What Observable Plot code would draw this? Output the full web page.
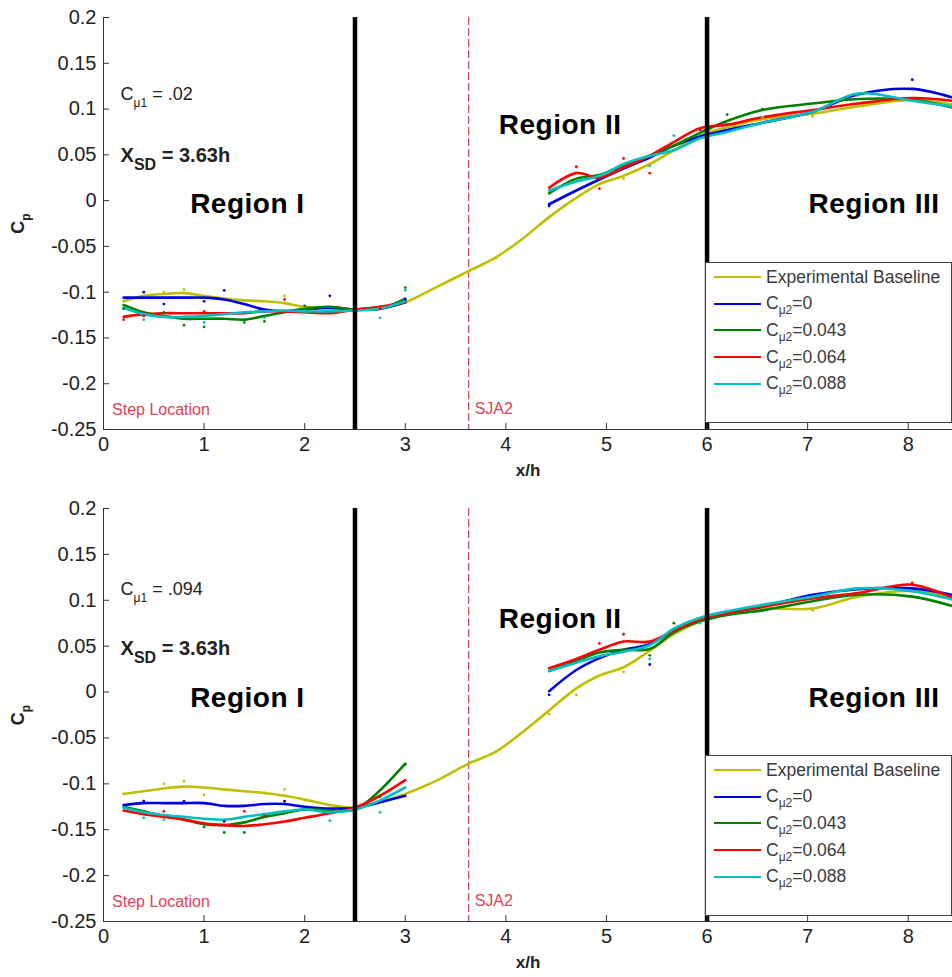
<!DOCTYPE html>
<html><head><meta charset="utf-8">
<script src="https://cdn.jsdelivr.net/npm/d3@7"></script>
<script src="https://cdn.jsdelivr.net/npm/@observablehq/plot@0.6"></script>
<style>
body{margin:0;background:#fff;font-family:Arial,"Liberation Sans",sans-serif;}
.panel{position:relative;width:952px;overflow:hidden;}
.legend{position:absolute;background:#fff;border:1px solid #444;box-sizing:border-box;width:247px;height:161px;padding-top:1px;}
.legend .row{display:flex;align-items:center;height:26.6px;font-size:17.5px;color:#3a3a3a;white-space:nowrap;}
.legend .sw{width:47px;margin-left:8px;margin-right:5px;height:0;border-top:2.5px solid;}
.legend sub{font-size:12px;vertical-align:-5px;line-height:0;}
</style></head><body><div id="chart"></div><script>
// ---- axes / reference values ----
const xDomain = [0, 8.44];
const yDomain = [-0.25, 0.2];
const xTicks = [0, 1, 2, 3, 4, 5, 6, 7, 8];
const yTicks = [-0.25, -0.2, -0.15, -0.1, -0.05, 0, 0.05, 0.1, 0.15, 0.2];
const regionBounds = [2.5, 6];
const sjaLocation = [3.63];

// ---- series ----
const seriesNames = ["Experimental Baseline", "Cμ2=0", "Cμ2=0.043", "Cμ2=0.064", "Cμ2=0.088"];
const seriesColors = ["#bfbf00", "#0000e6", "#008000", "#ff0000", "#00bfbf"];

// measurement stations
const xI = [0.2, 0.4, 0.6, 0.8, 1.0, 1.2, 1.4, 1.6, 1.8, 2.0, 2.25, 2.5, 2.75, 3.0];
const xGap = [3.3, 3.63, 3.9, 4.15];
const xII = [4.43, 4.7, 4.93, 5.17, 5.43, 5.67, 5.93, 6.2, 6.55, 7.05, 7.5, 8.04, 8.43];

// ---- top panel (Cμ1 = .02) fitted curves ----
const topBaseI = [-0.110, -0.104, -0.102, -0.101, -0.104, -0.107, -0.109, -0.110, -0.112, -0.116, -0.118, -0.119, -0.118, -0.111];
const topBaseGap = [-0.095, -0.077, -0.062, -0.043];
const topBaseII = [-0.018, 0.003, 0.018, 0.027, 0.040, 0.055, 0.071, 0.080, 0.089, 0.095, 0.103, 0.110, 0.105];
const topBlueI = [-0.106, -0.106, -0.106, -0.106, -0.106, -0.108, -0.113, -0.119, -0.121, -0.119, -0.117, -0.119, -0.118, -0.111];
const topBlueII = [-0.004, 0.011, 0.023, 0.035, 0.047, 0.060, 0.070, 0.077, 0.085, 0.097, 0.116, 0.122, 0.113];
const topGreenI = [-0.114, -0.122, -0.126, -0.129, -0.129, -0.129, -0.130, -0.126, -0.122, -0.118, -0.116, -0.119, -0.118, -0.107];
const topGreenII = [0.008, 0.024, 0.028, 0.038, 0.049, 0.060, 0.074, 0.087, 0.099, 0.106, 0.111, 0.110, 0.102];
const topRedI = [-0.127, -0.124, -0.123, -0.123, -0.123, -0.123, -0.123, -0.121, -0.121, -0.122, -0.123, -0.119, -0.116, -0.111];
const topRedII = [0.014, 0.030, 0.025, 0.036, 0.049, 0.064, 0.079, 0.083, 0.091, 0.099, 0.106, 0.112, 0.109];
const topCyanI = [-0.117, -0.124, -0.127, -0.127, -0.126, -0.124, -0.122, -0.121, -0.120, -0.121, -0.121, -0.120, -0.118, -0.110];
const topCyanII = [0.011, 0.021, 0.027, 0.040, 0.049, 0.055, 0.068, 0.075, 0.085, 0.097, 0.117, 0.109, 0.103];

// ---- bottom panel (Cμ1 = .094) fitted curves ----
const botBaseI = [-0.111, -0.108, -0.105, -0.103, -0.104, -0.106, -0.108, -0.110, -0.113, -0.117, -0.123, -0.126, -0.120, -0.111];
const botBaseGap = [-0.097, -0.078, -0.065, -0.045];
const botBaseII = [-0.020, 0.004, 0.018, 0.027, 0.045, 0.063, 0.077, 0.086, 0.091, 0.091, 0.104, 0.110, 0.103];
const botBlueI = [-0.123, -0.121, -0.121, -0.121, -0.121, -0.124, -0.124, -0.122, -0.122, -0.125, -0.127, -0.126, -0.120, -0.113];
const botBlueII = [0.001, 0.024, 0.037, 0.046, 0.052, 0.067, 0.079, 0.086, 0.093, 0.106, 0.112, 0.113, 0.106];
const botGreenI = [-0.125, -0.130, -0.135, -0.139, -0.144, -0.145, -0.142, -0.136, -0.132, -0.128, -0.129, -0.128, -0.107, -0.078];
const botGreenII = [0.023, 0.034, 0.043, 0.046, 0.047, 0.065, 0.077, 0.084, 0.089, 0.099, 0.106, 0.104, 0.094];
const botRedI = [-0.129, -0.133, -0.136, -0.139, -0.143, -0.145, -0.146, -0.144, -0.141, -0.137, -0.132, -0.126, -0.113, -0.096];
const botRedII = [0.026, 0.036, 0.046, 0.055, 0.055, 0.067, 0.079, 0.086, 0.093, 0.102, 0.108, 0.117, 0.103];
const botCyanI = [-0.126, -0.131, -0.134, -0.136, -0.138, -0.139, -0.136, -0.133, -0.130, -0.128, -0.131, -0.128, -0.118, -0.104];
const botCyanII = [0.023, 0.032, 0.039, 0.044, 0.051, 0.069, 0.081, 0.088, 0.095, 0.104, 0.113, 0.110, 0.101];

// ---- raw measurement dots [x, Cp] ----
const topBaseDots = [[0.6,-0.100],[0.8,-0.097],[1.8,-0.104],[2.0,-0.116],[3.9,-0.063],[4.43,-0.018],[5.17,0.024],[6.55,0.091],[7.05,0.092]];
const topBlueDots = [[0.4,-0.100],[0.6,-0.113],[1.0,-0.110],[1.2,-0.098],[2.25,-0.104],[3.0,-0.108],[4.43,-0.006],[8.04,0.132]];
const topGreenDots = [[0.2,-0.118],[0.6,-0.122],[0.8,-0.136],[1.0,-0.138],[1.4,-0.133],[1.6,-0.132],[2.0,-0.115],[3.0,-0.095],[6.2,0.094],[6.55,0.100]];
const topRedDots = [[0.2,-0.130],[0.4,-0.126],[1.0,-0.121],[1.8,-0.108],[2.75,-0.118],[4.7,0.037],[4.93,0.013],[5.17,0.046],[5.43,0.030],[5.93,0.077]];
const topCyanDots = [[0.4,-0.130],[1.0,-0.133],[1.6,-0.128],[2.75,-0.128],[3.0,-0.098],[5.43,0.038],[5.67,0.071],[7.5,0.115]];
const botBaseDots = [[0.2,-0.111],[0.6,-0.100],[0.8,-0.097],[1.0,-0.112],[1.6,-0.110],[1.8,-0.106],[2.0,-0.118],[3.9,-0.065],[4.43,-0.024],[4.7,-0.003],[5.17,0.022],[7.05,0.089]];
const botBlueDots = [[0.4,-0.119],[0.8,-0.119],[1.2,-0.141],[1.8,-0.119],[4.43,-0.003],[5.43,0.030]];
const botGreenDots = [[1.0,-0.147],[1.2,-0.153],[1.4,-0.153],[2.75,-0.114],[3.0,-0.079],[5.43,0.040],[5.67,0.075]];
const botRedDots = [[0.6,-0.130],[1.4,-0.130],[1.6,-0.135],[4.93,0.053],[5.17,0.063],[8.04,0.119]];
const botCyanDots = [[0.4,-0.137],[0.6,-0.139],[2.25,-0.140],[2.75,-0.131],[5.43,0.036],[5.93,0.075]];

// ---- annotation texts ----
const cmu1Labels = ["Cμ1 = .02", "Cμ1 = .094"];
const xsdLabel = "XSD = 3.63h";
const regionLabels = ["Region I", "Region II", "Region III"];
const regionLabelX = [1.43, 4.54, 7.66];
const topRegionLabelY = [-0.004, 0.083, -0.004];
const botRegionLabelY = [-0.007, 0.080, -0.007];
const stepLabel = "Step Location";
const sjaLabel = "SJA2";

// ---- build tables ----
function buildLines(baseI, baseGap, baseII, curvesI, curvesII) {
  const rows = [];
  const baseX = xI.concat(xGap, xII);
  const baseV = baseI.concat(baseGap, baseII);
  baseX.forEach((x, i) => rows.push({series: seriesNames[0], seg: "all", x, cp: baseV[i]}));
  curvesI.forEach((vals, k) => vals.forEach((v, i) => rows.push({series: seriesNames[k + 1], seg: "I", x: xI[i], cp: v})));
  curvesII.forEach((vals, k) => vals.forEach((v, i) => rows.push({series: seriesNames[k + 1], seg: "II", x: xII[i], cp: v})));
  return rows;
}
function buildDots(lists) {
  const rows = [];
  lists.forEach((list, k) => list.forEach(([x, cp]) => rows.push({series: seriesNames[k], x, cp})));
  return rows;
}

const panels = [
  {
    lines: buildLines(topBaseI, topBaseGap, topBaseII, [topBlueI, topGreenI, topRedI, topCyanI], [topBlueII, topGreenII, topRedII, topCyanII]),
    dots: buildDots([topBaseDots, topBlueDots, topGreenDots, topRedDots, topCyanDots]),
    cmu: cmu1Labels[0], cmuY: 0.116, xsdY: 0.049, regionY: topRegionLabelY,
    height: 488, marginTop: 17, marginBottom: 59, legendTop: 262
  },
  {
    lines: buildLines(botBaseI, botBaseGap, botBaseII, [botBlueI, botGreenI, botRedI, botCyanI], [botBlueII, botGreenII, botRedII, botCyanII]),
    dots: buildDots([botBaseDots, botBlueDots, botGreenDots, botRedDots, botCyanDots]),
    cmu: cmu1Labels[1], cmuY: 0.112, xsdY: 0.0475, regionY: botRegionLabelY,
    height: 489, marginTop: 20, marginBottom: 56, legendTop: 267
  }
];

function rich(svg, key, html) {
  d3.select(svg).selectAll("text").filter(function () { return this.textContent === key; })
    .each(function () { this.innerHTML = html; });
}

const root = document.getElementById("chart");
panels.forEach((p) => {
  const regions = regionLabels.map((t, i) => ({text: t, x: regionLabelX[i], y: p.regionY[i]}));
  const plot = Plot.plot({
    width: 952, height: p.height,
    marginTop: p.marginTop, marginBottom: p.marginBottom, marginLeft: 103, marginRight: 0,
    x: {domain: xDomain},
    y: {domain: yDomain},
    color: {domain: seriesNames, range: seriesColors},
    style: {fontFamily: "Arial, 'Liberation Sans', sans-serif", color: "#222", background: "#fff"},
    marks: [
      Plot.ruleX(sjaLocation, {stroke: "#c8384f", strokeWidth: 1.1, strokeDasharray: "8,3"}),
      Plot.line(p.lines, {x: "x", y: "cp", z: (d) => d.series + d.seg, stroke: "series", strokeWidth: 2.6, curve: "catmull-rom"}),
      Plot.dot(p.dots, {x: "x", y: "cp", fill: "series", r: 1.4}),
      Plot.ruleX(regionBounds, {stroke: "#000", strokeWidth: 4.5}),
      Plot.ruleX([xDomain[0]], {stroke: "#333", strokeWidth: 1}),
      Plot.ruleY([yDomain[0]], {stroke: "#333", strokeWidth: 1}),
      Plot.axisX({ticks: xTicks, tickSize: -6, tickPadding: 13, tickFormat: (d) => String(d), label: null, fontSize: 20, stroke: "#333"}),
      Plot.axisY({ticks: yTicks, tickSize: -6, tickPadding: 13, tickFormat: (d) => String(d), label: null, fontSize: 20, stroke: "#333"}),
      Plot.text(["x/h"], {text: (d) => d, frameAnchor: "bottom", dy: 41, lineAnchor: "middle", textAnchor: "middle", fontWeight: "bold", fontSize: 17}),
      Plot.text(["Cp"], {text: (d) => d, frameAnchor: "left", dx: -85, rotate: -90, lineAnchor: "middle", textAnchor: "middle", fontWeight: "bold", fontSize: 18}),
      Plot.text(regions, {x: "x", y: "y", text: "text", fontWeight: "bold", fontSize: 28, textAnchor: "middle", fill: "#000"}),
      Plot.text([p.cmu], {text: (d) => d, x: () => 0.17, y: () => p.cmuY, textAnchor: "start", fontSize: 18}),
      Plot.text([xsdLabel], {text: (d) => d, x: () => 0.17, y: () => p.xsdY, textAnchor: "start", fontSize: 20, fontWeight: "bold"}),
      Plot.text([stepLabel], {text: (d) => d, x: () => 0.085, y: () => -0.229, textAnchor: "start", fontSize: 16, fill: "#e04058"}),
      Plot.text([sjaLabel], {text: (d) => d, x: () => 3.69, y: () => -0.228, textAnchor: "start", fontSize: 16, fill: "#e04058"})
    ]
  });
  rich(plot, "Cp", 'C<tspan dy="6" font-size="12">p</tspan>');
  rich(plot, p.cmu, 'C<tspan dy="7" font-size="12">μ1</tspan><tspan dy="-7"> ' + p.cmu.slice(4) + '</tspan>');
  rich(plot, xsdLabel, 'X<tspan dy="8" font-size="16">SD</tspan><tspan dy="-8"> = 3.63h</tspan>');
  d3.select(plot).selectAll("text").filter(function () { return regionLabels.includes(this.textContent); }).style("letter-spacing", "0.5px");

  const div = document.createElement("div");
  div.className = "panel";
  div.style.height = p.height + "px";
  div.appendChild(plot);
  const lg = document.createElement("div");
  lg.className = "legend";
  lg.style.left = "705px";
  lg.style.top = p.legendTop + "px";
  seriesNames.forEach((name, i) => {
    const row = document.createElement("div");
    row.className = "row";
    const sw = document.createElement("span");
    sw.className = "sw";
    sw.style.borderTopColor = seriesColors[i];
    row.appendChild(sw);
    const lab = document.createElement("span");
    lab.innerHTML = i === 0 ? name : "C<sub>μ2</sub>" + name.slice(3);
    row.appendChild(lab);
    lg.appendChild(row);
  });
  div.appendChild(lg);
  root.appendChild(div);
});
</script></body></html>
